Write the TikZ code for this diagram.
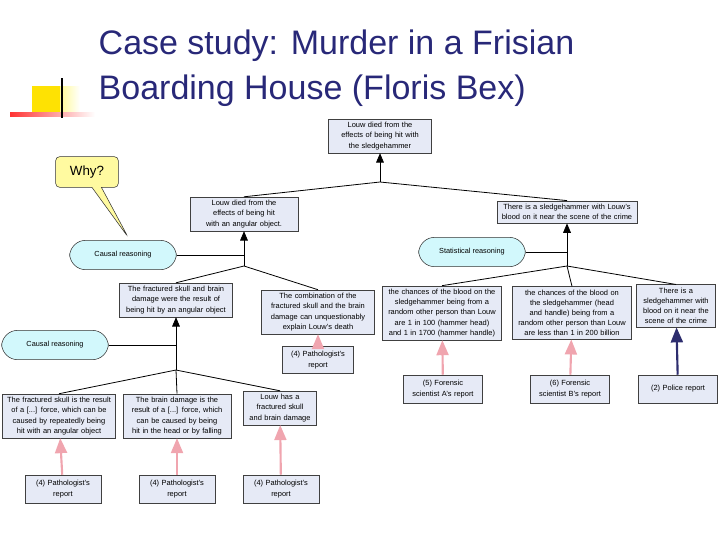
\documentclass[tikz,border=0pt]{standalone}
\usepackage{fontspec}
\setmainfont{Liberation Sans}
\usetikzlibrary{arrows,shapes.callouts}
\hyphenpenalty=10000
\definecolor{titleblue}{RGB}{40,40,120}
\definecolor{boxfill}{RGB}{230,234,246}
\definecolor{pinkline}{RGB}{240,165,175}
\definecolor{navyline}{RGB}{45,45,110}
\definecolor{reasonfill}{RGB}{210,248,252}
\definecolor{whyfill}{RGB}{255,250,160}
\tikzset{
	claim node/.style={rectangle,draw=black!75,fill=boxfill,align=center,font=\fontsize{5.6}{7.6}\selectfont,inner sep=2.5pt},
	reason node/.style={rounded corners=12pt,draw=black!80,fill=reasonfill,font=\fontsize{5.5}{7}\selectfont,minimum width=80pt,minimum height=22pt},
	link/.style={-,black,semithick},
	support/.style={-triangle 45,pinkline,line width=1.6pt},
	police/.style={-triangle 45,navyline,line width=1.6pt}
}
\begin{document}
\begin{tikzpicture}[x=0.75pt,y=-0.75pt,>=triangle 45]
	\useasboundingbox (0,0) rectangle (720,540);
	% logo
	\shade[left color=yellow!90!orange,right color=white] (32,86) rectangle (80,115);
	\fill[yellow!85!orange] (32,86) rectangle (60,115);
	\shade[left color=red!80,right color=white] (10,112) rectangle (95,116);
	\draw[black,line width=1.2pt] (62,78) -- (62,118);
	% title
	\node[anchor=west,text=titleblue,font=\fontsize{25.5}{34}\selectfont,align=left] (title) at (94,68) {Case study: Murder in a Frisian\\Boarding House (Floris Bex)};
	% claims
	\node[claim node,text width=72pt] (top) at (380,136) {Louw died from the effects of being hit with the sledgehammer};
	\node[claim node,text width=76pt] (angular) at (244,214) {Louw died from the effects of being hit with an angular object.};
	\node[claim node,text width=100pt] (hammer) at (567,212) {There is a sledgehammer with Louw's blood on it near the scene of the crime};
	\node[claim node,text width=80pt] (result) at (176,300) {The fractured skull and brain damage were the result of being hit by an angular object};
	\node[claim node,text width=80pt] (combi) at (318,312) {The combination of the fractured skull and the brain damage can unquestionably explain Louw's death};
	\node[claim node,text width=84pt] (chanceA) at (442,313) {the chances of the blood on the sledgehammer being from a random other person than Louw are 1 in 100 (hammer head) and 1 in 1700 (hammer handle)};
	\node[claim node,text width=84pt] (chanceB) at (572,313) {the chances of the blood on the sledgehammer (head and handle) being from a random other person than Louw are less than 1 in 200 billion};
	\node[claim node,text width=54pt] (near) at (676,306) {There is a sledgehammer with blood on it near the scene of the crime};
	\node[claim node,text width=80pt] (skull) at (59,416) {The fractured skull is the result of a [...] force, which can be caused by repeatedly being hit with an angular object};
	\node[claim node,text width=76pt] (brain) at (177,416) {The brain damage is the result of a [...] force, which can be caused by being hit in the head or by falling};
	\node[claim node,text width=50pt] (has) at (280,408) {Louw has a fractured skull and brain damage};
	% sources
	\node[claim node,text width=48pt,minimum height=20pt] (patho1) at (318,360) {(4) Pathologist's report};
	\node[claim node,text width=54pt,minimum height=21pt] (sciA) at (443,389) {(5) Forensic scientist A's report};
	\node[claim node,text width=54pt,minimum height=21pt] (sciB) at (570,389) {(6) Forensic scientist B's report};
	\node[claim node,text width=54pt,minimum height=21pt] (police) at (678,389) {(2) Police report};
	\node[claim node,text width=52pt,minimum height=21pt] (patho2) at (63,489) {(4) Pathologist's report};
	\node[claim node,text width=52pt,minimum height=21pt] (patho3) at (177,489) {(4) Pathologist's report};
	\node[claim node,text width=52pt,minimum height=21pt] (patho4) at (281,489) {(4) Pathologist's report};
	% reasoning
	\node[reason node] (causal1) at (123,255) {Causal reasoning};
	\node[reason node] (stat) at (472,252) {Statistical reasoning};
	\node[reason node] (causal2) at (55,345) {Causal reasoning};
	\node[rectangle callout,draw=black!80,fill=whyfill,rounded corners=3pt,minimum width=47pt,minimum height=23pt,font=\fontsize{10}{12}\selectfont,callout absolute pointer={(128,237)}] (why) at (87,172) {Why?};
	% junctions
	\coordinate (j1) at (380,182);
	\coordinate (j2) at (244,266);
	\coordinate (j3) at (567,266);
	\coordinate (j4) at (176,370);
	\draw[link] (angular.north) -- (j1) -- (hammer.north);
	\draw[link,->] (j1) -- (top.south);
	\draw[link] (result.north) -- (j2) -- (combi.north);
	\draw[link,->] (j2) -- (angular.south);
	\draw[link] (chanceA.north) -- (j3) -- (near.north);
	\draw[link] (j3) -- (chanceB.north);
	\draw[link,->] (j3) -- (hammer.south);
	\draw[link] (skull.north) -- (j4) -- (has.north);
	\draw[link] (j4) -- (brain.north);
	\draw[link,->] (j4) -- (result.south);
	\draw[link] (causal1.east) -- (causal1.east -| angular.south);
	\draw[link] (stat.east) -- (stat.east -| hammer.south);
	\draw[link] (causal2.east) -- (causal2.east -| result.south);
	% sources
	\draw[support] (patho1) -- (combi);
	\draw[support] (sciA) -- (chanceA);
	\draw[support] (sciB) -- (chanceB);
	\draw[police] (police) -- (near);
	\draw[support] (patho2) -- (skull);
	\draw[support] (patho3) -- (brain);
	\draw[support] (patho4) -- (has);
\end{tikzpicture}
\end{document}
